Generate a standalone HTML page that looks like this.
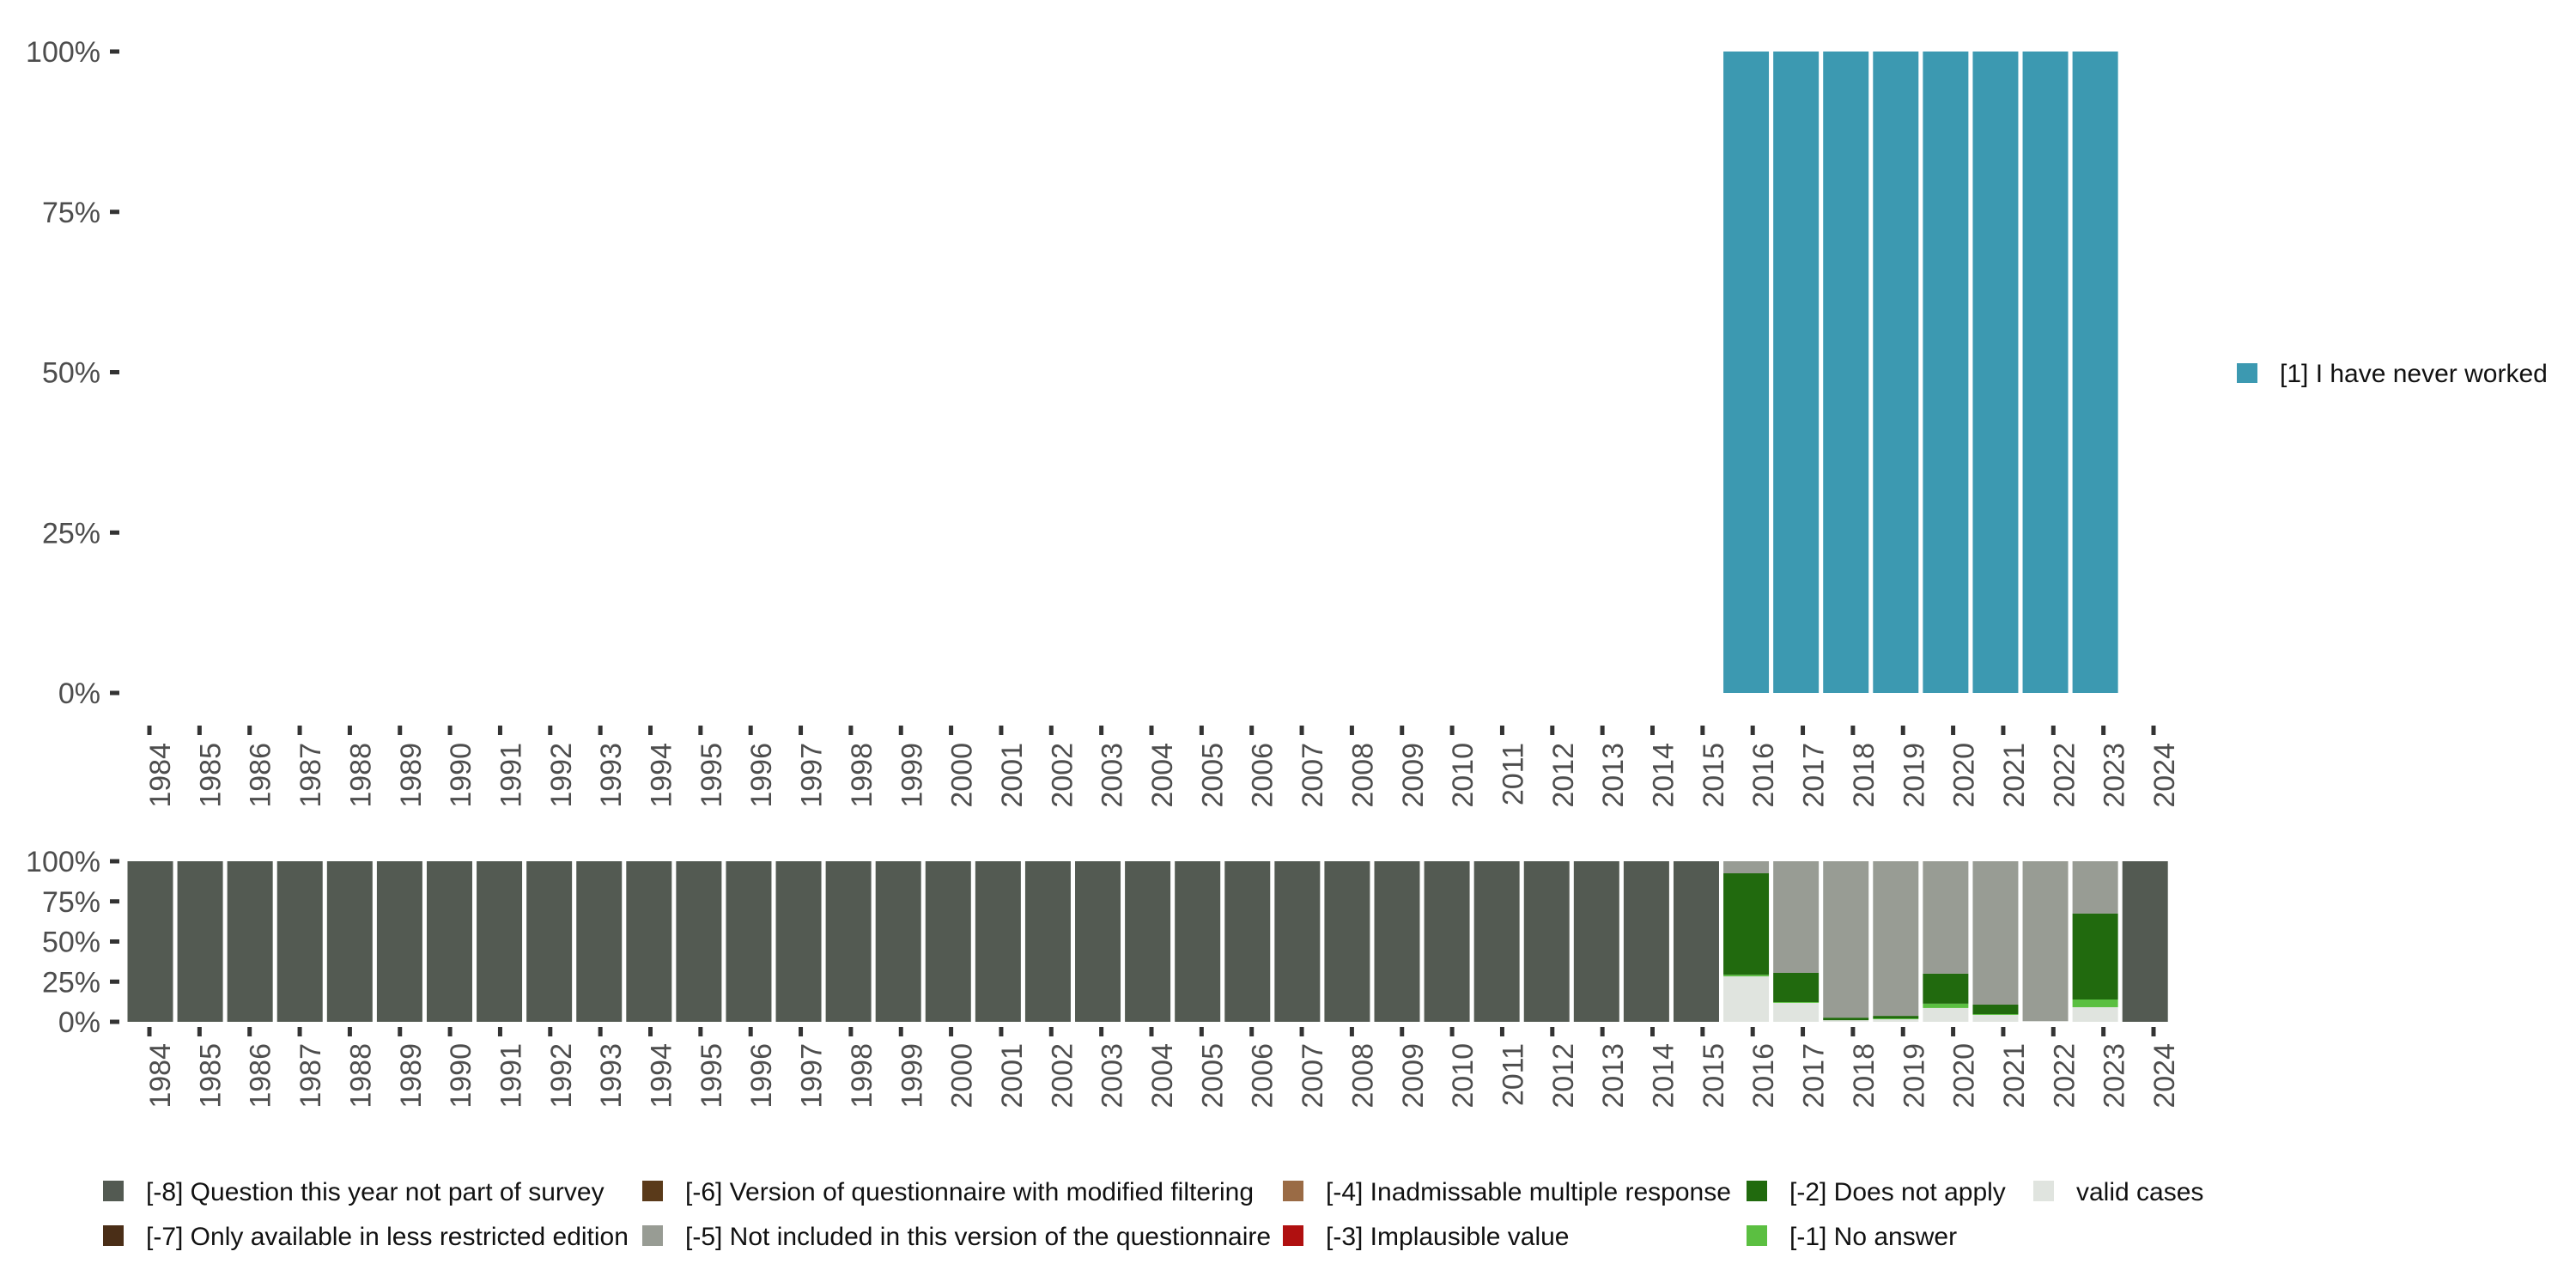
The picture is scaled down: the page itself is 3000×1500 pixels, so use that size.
<!DOCTYPE html>
<html><head><meta charset="utf-8"><style>
body{margin:0;background:#fff;}
svg{display:block;font-family:"Liberation Sans",sans-serif;}
</style></head><body>
<svg id="c" width="3000" height="1500" xmlns="http://www.w3.org/2000/svg"></svg>
<script>
const years=[1984,1985,1986,1987,1988,1989,1990,1991,1992,1993,1994,1995,1996,1997,1998,1999,2000,2001,2002,2003,2004,2005,2006,2007,2008,2009,2010,2011,2012,2013,2014,2015,2016,2017,2018,2019,2020,2021,2022,2023,2024];
const topYears=[2016,2017,2018,2019,2020,2021,2022,2023];
const topValues=[100,100,100,100,100,100,100,100];
const yTicks=[0,25,50,75,100];
const yTickLabels=["0%","25%","50%","75%","100%"];
// bottom stacked series (bottom to top), values per year index
const sValid=[0,0,0,0,0,0,0,0,0,0,0,0,0,0,0,0,0,0,0,0,0,0,0,0,0,0,0,0,0,0,0,0,28.3,11.8,1,1.6,8.6,4.3,0.5,9.1,0];
const sNoAnswer=[0,0,0,0,0,0,0,0,0,0,0,0,0,0,0,0,0,0,0,0,0,0,0,0,0,0,0,0,0,0,0,0,1,0.5,0,0.5,2.7,0.5,0,4.8,0];
const sNotApply=[0,0,0,0,0,0,0,0,0,0,0,0,0,0,0,0,0,0,0,0,0,0,0,0,0,0,0,0,0,0,0,0,63.2,18.2,1.6,1.6,18.7,5.9,0,53.5,0];
const sNotIncluded=[0,0,0,0,0,0,0,0,0,0,0,0,0,0,0,0,0,0,0,0,0,0,0,0,0,0,0,0,0,0,0,0,7.5,69.5,97.4,96.3,70,89.3,99.5,32.6,0];
const sNotPart=[100,100,100,100,100,100,100,100,100,100,100,100,100,100,100,100,100,100,100,100,100,100,100,100,100,100,100,100,100,100,100,100,0,0,0,0,0,0,0,0,100];
const seriesList=[sValid,sNoAnswer,sNotApply,sNotIncluded,sNotPart];
const seriesColors=["#e0e4df","#5bbf41","#216a0e","#989c94","#535a52"];
const seriesNames=["valid","no-answer","does-not-apply","not-included","not-part"];
const legendItems=[
 ["[-8] Question this year not part of survey","#535a52",120,1387],
 ["[-7] Only available in less restricted edition","#4a2e17",120,1439],
 ["[-6] Version of questionnaire with modified filtering","#5a3a1a",748,1387],
 ["[-5] Not included in this version of the questionnaire","#989c94",748,1439],
 ["[-4] Inadmissable multiple response","#9a6b45",1494,1387],
 ["[-3] Implausible value","#b01010",1494,1439],
 ["[-2] Does not apply","#216a0e",2034,1387],
 ["[-1] No answer","#5bbf41",2034,1439],
 ["valid cases","#e0e4df",2368,1387]];
const svg=document.getElementById('c');
const NS='http://www.w3.org/2000/svg';
function mk(t,a,txt){const e=document.createElementNS(NS,t);for(const k in a)e.setAttribute(k,a[k]);if(txt!==undefined)e.textContent=txt;svg.appendChild(e);return e;}
const x=y=>174+(y-1984)*58.35;
const xb=y=>175+(y-1984)*58.08;
const BW=53;
const yTop=v=>807-v*(807-60)/100;
const yBot=v=>1190-v*(1190-1003)/100;
function axes(yf,tickY,labelTop,pfx){
 yTicks.forEach((t,i)=>{
  const r=mk('rect',{x:128,y:yf(t)-2.5,width:11,height:5,fill:'#333'});
  
  
  const l=mk('text',{x:117,y:yf(t)+12,'text-anchor':'end','font-size':34,fill:'#4d4d4d'},yTickLabels[i]);
  
  
 });
 years.forEach(yr=>{
  const r=mk('rect',{x:x(yr)-2.5,y:tickY,width:5,height:11,fill:'#333'});
  
  
  const bx=x(yr)+24;
  const l=mk('text',{x:bx,y:labelTop,'text-anchor':'end','font-size':34,fill:'#4d4d4d',transform:`rotate(-90 ${bx} ${labelTop})`},String(yr));
  
  
 });
}
topYears.forEach((yr,i)=>{
 const r=mk('rect',{x:xb(yr)-BW/2,y:yTop(topValues[i]),width:BW,height:yTop(0)-yTop(topValues[i]),fill:'#3c99b1'});
 
 
});
axes(yTop,845,865,'top');
years.forEach((yr,i)=>{
 let cum=0;
 seriesList.forEach((s,k)=>{
  const v=s[i]; if(!v) return;
  const r=mk('rect',{x:xb(yr)-BW/2,y:yBot(cum+v),width:BW,height:yBot(cum)-yBot(cum+v),fill:seriesColors[k]});
  
  
  cum+=v;
 });
});
axes(yBot,1196,1215,'bottom');
// right legend
const ls=mk('rect',{x:2605,y:423,width:24,height:23,fill:'#3c99b1'});


const lt=mk('text',{x:2655,y:445,'font-size':30,fill:'#111'},'[1] I have never worked');


legendItems.forEach(it=>{
 const s=mk('rect',{x:it[2],y:it[3]-12,width:24,height:24,fill:it[1]});
 
 
 const t=mk('text',{x:it[2]+50,y:it[3]+11,'font-size':30,fill:'#111'},it[0]);
 
 
});
</script>
</body></html>
